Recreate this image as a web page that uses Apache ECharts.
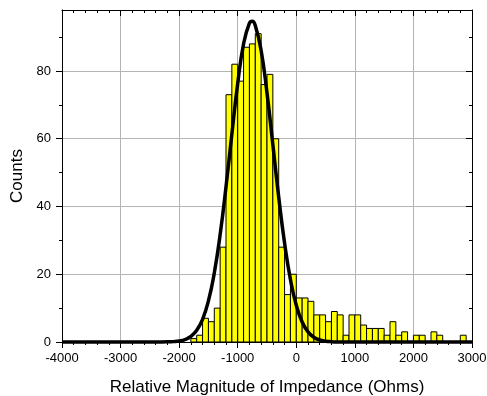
<!DOCTYPE html>
<html>
<head>
<meta charset="utf-8">
<script src="https://cdn.jsdelivr.net/npm/echarts@6/dist/echarts.min.js"></script>
<style>
  html, body { margin: 0; padding: 0; background: #fff; }
  #chart { width: 487px; height: 396px; }
</style>
</head>
<body>
<div id="chart"></div>
<script>
// Histogram bins: lower edge of each bin (Ohms) and the count in it
const binWidth = 100;
const binStarts = [
  -1800, -1700, -1600, -1500, -1400, -1300, -1200, -1100, -1000, -900,
  -800, -700, -600, -500, -400, -300, -200, -100, 0, 100,
  200, 300, 400, 500, 600, 700, 800, 900, 1000, 1100,
  1200, 1300, 1400, 1500, 1600, 1700, 1800, 1900, 2000, 2100,
  2200, 2300, 2400, 2500, 2600, 2700, 2800, 2900
];
const counts = [
  1, 2, 7, 6, 10, 28, 73, 82, 77, 87,
  88, 91, 76, 79, 60, 28, 14, 20, 13, 13,
  12, 8, 8, 6, 9, 8, 2, 8, 8, 5,
  4, 4, 4, 2, 6, 2, 3, 0, 2, 2,
  0, 3, 2, 0, 0, 0, 2, 0
];

// Gaussian fit curve, sampled points (x in Ohms, y in counts)
const fitX = [
  -4000, -3500, -3000, -2500, -2300, -2200, -2100, -2000, -1900, -1800,
  -1700, -1600, -1500, -1400, -1300, -1200, -1100, -1000, -900, -800,
  -750, -700, -600, -500, -400, -300, -200, -100, 0, 100,
  200, 300, 400, 500, 600, 700, 1000, 1500, 2000, 2500, 3000
];
const fitY = [
  0, 0, 0, 0, 0.01, 0.04, 0.11, 0.29, 0.72, 1.64,
  3.44, 6.70, 12.13, 20.36, 31.71, 45.80, 61.37, 76.29, 87.99, 94.13,
  94.66, 93.43, 86.03, 73.48, 58.22, 42.80, 29.19, 18.47, 10.83, 5.90,
  2.98, 1.40, 0.61, 0.24, 0.09, 0.03, 0, 0, 0, 0, 0
];

// Axis ranges and tick positions
const xMin = -4000, xMax = 3000, xStep = 1000;
const yMin = 0, yMax = 98;
const yMajorTicks = [0, 20, 40, 60, 80];
const yMinorTicks = [10, 30, 50, 70, 90];

const FONT = 'Liberation Sans, Arial, Helvetica, sans-serif';
const gridGray = '#b4b4b4';

const histData = binStarts.map((s, i) => [s, s + binWidth, counts[i]]);
const fitData = fitX.map((x, i) => [x, fitY[i]]);

const chart = echarts.init(document.getElementById('chart'), null, { renderer: 'canvas' });

const baseX = { type: 'value', min: xMin, max: xMax, interval: xStep };
const baseY = { type: 'value', min: yMin, max: yMax };
const plainNumber = v => String(v);

chart.setOption({
  animation: false,
  backgroundColor: '#fff',
  grid: { left: 62, right: 15, top: 10, bottom: 54, containLabel: false, outerBoundsMode: 'none' },
  xAxis: [
    Object.assign({}, baseX, {
      position: 'bottom',
      axisLine: { show: true, onZero: false, lineStyle: { color: '#000', width: 1 } },
      axisTick: { show: true, inside: false, length: 6, lineStyle: { color: '#000' } },
      minorTick: { show: true, splitNumber: 5, length: 3, lineStyle: { color: '#000' } },
      axisLabel: { color: '#000', fontFamily: FONT, fontSize: 13, margin: 10, formatter: plainNumber },
      splitLine: { show: true, lineStyle: { color: gridGray, width: 1 } },
      name: 'Relative Magnitude of Impedance (Ohms)',
      nameLocation: 'middle',
      nameGap: 37,
      nameTextStyle: { color: '#000', fontFamily: FONT, fontSize: 17 }
    }),
    Object.assign({}, baseX, {
      position: 'top',
      axisLine: { show: true, onZero: false, lineStyle: { color: '#000', width: 1 } },
      axisTick: { show: true, inside: true, length: 6, lineStyle: { color: '#000' } },
      minorTick: { show: true, splitNumber: 5, length: 3, lineStyle: { color: '#000' } },
      axisLabel: { show: false },
      splitLine: { show: false }
    })
  ],
  yAxis: [
    Object.assign({}, baseY, {
      position: 'left',
      axisLine: { show: true, onZero: false, lineStyle: { color: '#000', width: 1 } },
      axisTick: { show: true, inside: false, length: 6, customValues: yMajorTicks, lineStyle: { color: '#000' } },
      axisLabel: { color: '#000', fontFamily: FONT, fontSize: 13, margin: 11, customValues: yMajorTicks, formatter: plainNumber },
      splitLine: { show: true, lineStyle: { color: gridGray, width: 1 } },
      name: 'Counts',
      nameLocation: 'middle',
      nameRotate: 90,
      nameGap: 36,
      nameTextStyle: { color: '#000', fontFamily: FONT, fontSize: 17 }
    }),
    Object.assign({}, baseY, {
      position: 'left',
      axisLine: { show: false, onZero: false },
      axisTick: { show: true, inside: false, length: 3, customValues: yMinorTicks, lineStyle: { color: '#000' } },
      axisLabel: { show: false },
      splitLine: { show: false }
    }),
    Object.assign({}, baseY, {
      position: 'right',
      axisLine: { show: true, onZero: false, lineStyle: { color: '#000', width: 1 } },
      axisTick: { show: true, inside: true, length: 6, customValues: yMajorTicks, lineStyle: { color: '#000' } },
      axisLabel: { show: false },
      splitLine: { show: false }
    }),
    Object.assign({}, baseY, {
      position: 'right',
      axisLine: { show: false, onZero: false },
      axisTick: { show: true, inside: true, length: 3, customValues: yMinorTicks, lineStyle: { color: '#000' } },
      axisLabel: { show: false },
      splitLine: { show: false }
    })
  ],
  series: [
    {
      type: 'custom',
      xAxisIndex: 0,
      yAxisIndex: 0,
      silent: true,
      z: 2,
      encode: { x: [0, 1], y: 2 },
      data: histData,
      renderItem: function (params, api) {
        const topLeft = api.coord([api.value(0), api.value(2)]);
        const bottomRight = api.coord([api.value(1), 0]);
        return {
          type: 'rect',
          shape: {
            x: topLeft[0],
            y: topLeft[1],
            width: bottomRight[0] - topLeft[0],
            height: bottomRight[1] - topLeft[1]
          },
          style: { fill: '#ffff00', stroke: '#000', lineWidth: 1 }
        };
      }
    },
    {
      type: 'line',
      xAxisIndex: 0,
      yAxisIndex: 0,
      silent: true,
      z: 3,
      data: fitData,
      smooth: true,
      showSymbol: false,
      clip: false,
      lineStyle: { color: '#000', width: 3.5 }
    }
  ]
});
</script>
</body>
</html>
